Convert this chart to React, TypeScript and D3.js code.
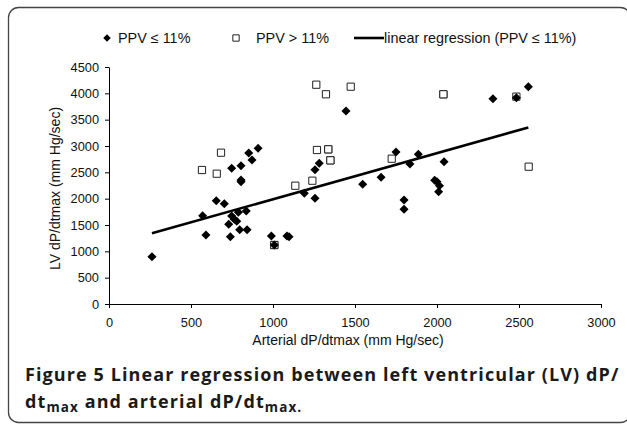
import React, { useEffect, useRef } from 'react';
import * as d3 from 'd3';

// PPV <= 11% (filled diamonds): [arterial dP/dtmax, LV dP/dtmax]
const lowPpvX = [262, 571, 591, 654, 703, 730, 740, 748, 764, 779, 789, 797, 837, 842, 748, 805, 805, 805, 852, 872, 909, 990, 1008, 1085, 1098, 1191, 1256, 1256, 1282, 1445, 1547, 1659, 1750, 1799, 1799, 1835, 1886, 1986, 2000, 2015, 2010, 2043, 2341, 2484, 2557];
const lowPpvY = [898, 1677, 1310, 1962, 1905, 1513, 1278, 1671, 1608, 1570, 1741, 1411, 1766, 1411, 2576, 2626, 2354, 2320, 2867, 2734, 2956, 1291, 1120, 1291, 1278, 2101, 2007, 2550, 2671, 3665, 2272, 2405, 2886, 1975, 1798, 2658, 2842, 2348, 2320, 2246, 2132, 2703, 3899, 3918, 4126];

// PPV > 11% (open squares)
const highPpvX = [567, 657, 683, 1008, 1008, 1136, 1240, 1264, 1268, 1323, 1337, 1337, 1350, 1350, 1474, 1724, 2039, 2039, 2484, 2559];
const highPpvY = [2544, 2474, 2873, 1120, 1120, 2246, 2341, 4164, 2924, 3982, 2937, 2937, 2728, 2728, 4126, 2759, 3982, 3982, 3937, 2607];

// regression line
const regSlope = 0.8756;
const regIntercept = 1114;

const xTicks = [0, 500, 1000, 1500, 2000, 2500, 3000];
const yTicks = [0, 500, 1000, 1500, 2000, 2500, 3000, 3500, 4000, 4500];

const legendLabels = ['PPV ≤ 11%', 'PPV > 11%', 'linear regression (PPV ≤ 11%)'];

const W = 627;
const H = 424;
const margin = { top: 67, right: 26, bottom: 120, left: 109 };
const font = '"Liberation Sans", Arial, sans-serif';

const App = () => {
  const ref = useRef<SVGSVGElement>(null);

  useEffect(() => {
    const svg = d3.select(ref.current);
    svg.selectAll('*').remove();

    const width = W - margin.left - margin.right;
    const height = H - margin.top - margin.bottom;

    // frame
    svg
      .append('rect')
      .attr('x', 8.5)
      .attr('y', 7.5)
      .attr('width', 622)
      .attr('height', 415)
      .attr('rx', 10)
      .attr('fill', 'none')
      .attr('stroke', '#444')
      .attr('stroke-width', 1.3);

    const x = d3.scaleLinear().domain([0, 3000]).range([0, width]);
    const y = d3.scaleLinear().domain([0, 4500]).range([height, 0]);

    const g = svg.append('g').attr('transform', `translate(${margin.left},${margin.top})`);

    // axes
    const xAxis = g
      .append('g')
      .attr('transform', `translate(0,${height})`)
      .call(d3.axisBottom(x).tickValues(xTicks).tickFormat(d3.format('d')).tickSize(4).tickSizeOuter(0).tickPadding(10));
    const yAxis = g
      .append('g')
      .call(d3.axisLeft(y).tickValues(yTicks).tickFormat(d3.format('d')).tickSize(4).tickSizeOuter(0).tickPadding(6));

    [xAxis, yAxis].forEach(a => {
      a.selectAll('text').attr('font-family', font).attr('font-size', 12.8).attr('fill', '#111');
      a.selectAll('line, path').attr('stroke', '#000');
    });

    // axis titles
    g.append('text')
      .attr('x', width / 2 - 7)
      .attr('y', height + 41)
      .attr('text-anchor', 'middle')
      .attr('font-family', font)
      .attr('font-size', 14)
      .attr('fill', '#111')
      .text('Arterial dP/dtmax (mm Hg/sec)');

    g.append('text')
      .attr('transform', `translate(${60 - margin.left},${height / 2 + 3}) rotate(-90)`)
      .attr('text-anchor', 'middle')
      .attr('font-family', font)
      .attr('font-size', 14)
      .attr('fill', '#111')
      .text('LV dP/dtmax (mm Hg/sec)');

    // regression line
    const regX = d3.extent(lowPpvX) as [number, number];
    const line = d3
      .line<number>()
      .x(d => x(d))
      .y(d => y(regSlope * d + regIntercept));
    g.append('path')
      .datum(regX)
      .attr('fill', 'none')
      .attr('stroke', '#000')
      .attr('stroke-width', 2.6)
      .attr('d', line);

    const square = d3.symbol(d3.symbolSquare, 52)();
    const diamond = d3.symbol(d3.symbolDiamond2, 52)();

    // squares
    g.append('g')
      .selectAll('path')
      .data(highPpvX.map((v, i) => [v, highPpvY[i]]))
      .join('path')
      .attr('d', square)
      .attr('transform', d => `translate(${x(d[0])},${y(d[1])})`)
      .attr('fill', 'white')
      .attr('stroke', '#222')
      .attr('stroke-width', 1);

    // diamonds
    g.append('g')
      .selectAll('path')
      .data(lowPpvX.map((v, i) => [v, lowPpvY[i]]))
      .join('path')
      .attr('d', diamond)
      .attr('transform', d => `translate(${x(d[0])},${y(d[1])})`)
      .attr('fill', '#000');

    // legend
    const lg = svg.append('g').attr('font-family', font).attr('font-size', 14.4).attr('fill', '#111');
    lg.append('path').attr('d', d3.symbol(d3.symbolDiamond2, 36)()).attr('transform', 'translate(107,38)').attr('fill', '#000');
    lg.append('text').attr('x', 118).attr('y', 43).text(legendLabels[0]);
    lg.append('path')
      .attr('d', d3.symbol(d3.symbolSquare, 40)())
      .attr('transform', 'translate(236,38)')
      .attr('fill', 'white')
      .attr('stroke', '#222');
    lg.append('text').attr('x', 256).attr('y', 43).text(legendLabels[1]);
    lg.append('line').attr('x1', 354).attr('x2', 384).attr('y1', 38).attr('y2', 38).attr('stroke', '#000').attr('stroke-width', 2.6);
    lg.append('text').attr('x', 384).attr('y', 43).text(legendLabels[2]);

    // caption
    const cap = svg
      .append('g')
      .attr('font-family', '"Open Sans", sans-serif')
      .attr('font-weight', 700)
      .attr('font-size', 18)
      .attr('letter-spacing', 1.1)
      .attr('fill', '#1a1a1a');
    cap.append('text').attr('x', 25).attr('y', 381).text('Figure 5 Linear regression between left ventricular (LV) dP/');
    const t2 = cap.append('text').attr('x', 25).attr('y', 408);
    t2.append('tspan').text('dt');
    t2.append('tspan').attr('font-size', 13.5).attr('dy', 4).text('max');
    t2.append('tspan').attr('dy', -4).text(' and arterial dP/dt');
    t2.append('tspan').attr('font-size', 13.5).attr('dy', 4).text('max');
    t2.append('tspan').attr('font-size', 13.5).text('.');
  }, []);

  return (
    <svg
      ref={ref}
      width={W}
      height={H}
      style={{ position: 'absolute', left: 0, top: 0, background: 'white' }}
    />
  );
};

export default App;
